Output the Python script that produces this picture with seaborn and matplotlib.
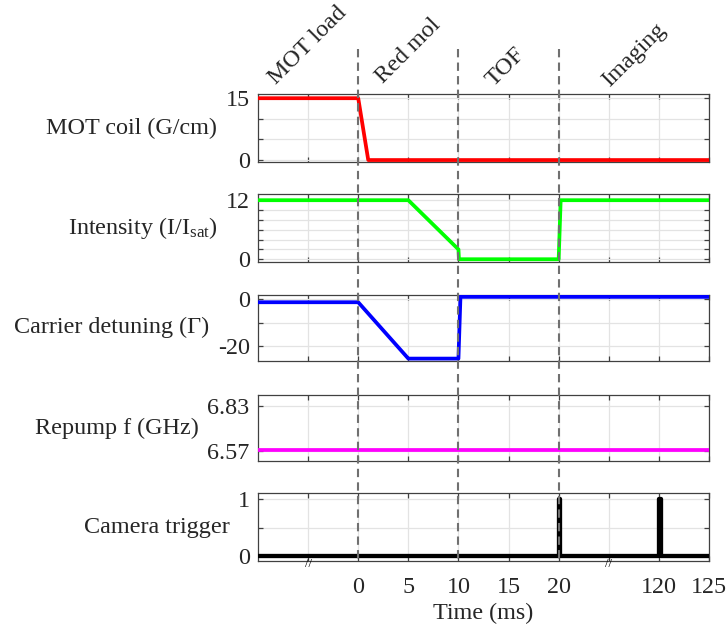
import numpy as np
import pandas as pd
import matplotlib
matplotlib.use("Agg")
import matplotlib.pyplot as plt
import seaborn as sns
from matplotlib.lines import Line2D
from matplotlib.transforms import blended_transform_factory as btf

# ---------------- data ----------------
# broken time axis: knots (ms) -> display position
T_KNOTS = [-1000, 0, 25, 115, 125]
P_KNOTS = [-2, 0, 5, 5.001, 7]

phase_names = ["MOT load", "Red mol", "TOF", "Imaging"]
phase_bounds = [0, 10, 20]

coil_t = [-1000, 0, 1, 125]
coil_v = [15, 15, 0, 0]

int_t = [-1000, 5, 10, 10.05, 20, 20.2, 125]
int_v = [12, 12, 2, 0, 0, 12, 12]

det_t = [-1000, 0, 5, 10, 10.2, 125]
det_v = [-1.3, -1.3, -25.4, -25.4, 1.0, 1.0]

rep_t = [-1000, 125]
rep_v = [6.575, 6.575]

cam_t = [-1000, 20, 20, 20.1, 20.1, 120, 120, 120.2, 120.2, 125]
cam_v = [0, 0, 1, 1, 0, 0, 1, 1, 0, 0]

xtick_t = [-500, 0, 5, 10, 15, 20, 25, 120, 125]
xtick_lab = ["", "0", "5", "10", "15", "20", "", "120", "125"]
break_t = [-500, 25]

panel_labels = ["MOT coil (G/cm)", r"Intensity (I/I$_{\mathrm{sat}}$)",
                "Carrier detuning (Γ)", "Repump f (GHz)", "Camera trigger"]
yticks = [[0, 5, 10, 15], [0, 2, 4, 6, 8, 10, 12], [-20, -10, 0], [6.57, 6.83], [0, 0.5, 1]]
yticklabels = [["0", "", "", "15"], ["0", "", "", "", "", "", "12"], ["-20", "", "0"],
               ["6.57", "6.83"], ["0", "", "1"]]
ylims = [(-0.4, 15.9), (-0.5, 13.2), (-26.3, 1.8), (6.51, 6.894), (-0.083, 1.106)]

series = [(coil_t, coil_v, "#ff0000", 2.7), (int_t, int_v, "#00ff00", 2.7),
          (det_t, det_v, "#0000ff", 2.7), (rep_t, rep_v, "#ff00ff", 2.7),
          (cam_t, cam_v, "#000000", 3.1)]

# ---------------- style ----------------
sns.set_style("ticks")
plt.rcParams["font.family"] = ["Liberation Serif", "DejaVu Serif"]
plt.rcParams["mathtext.fontset"] = "custom"
plt.rcParams["mathtext.rm"] = "Liberation Serif"
plt.rcParams["mathtext.it"] = "Liberation Serif:italic"
FS = 17.4

W, H = 726, 632
fig = plt.figure(figsize=(W / 100, H / 100), dpi=100)
fig.patch.set_facecolor("white")

panel_px = [(94.5, 161.7), (194.3, 261.7), (295, 360.7), (395, 461), (493.3, 560.7)]
left_px, right_px = 258, 709

fwd = lambda t: np.interp(t, T_KNOTS, P_KNOTS)
inv = lambda p: np.interp(p, P_KNOTS, T_KNOTS)

axes = []
for i, ((top, bot), (tt, vv, col, lw)) in enumerate(zip(panel_px, series)):
    ax = fig.add_axes([left_px / W, 1 - bot / H, (right_px - left_px) / W, (bot - top) / H])
    df = pd.DataFrame({"t": tt, "v": vv})
    sns.lineplot(data=df, x="t", y="v", ax=ax, color=col, lw=lw,
                 estimator=None, sort=False, legend=False, zorder=3)
    ax.set_xscale("function", functions=(fwd, inv))
    ax.set_xlim(T_KNOTS[0], T_KNOTS[-1])
    ax.set_ylim(*ylims[i])
    ax.set_xticks(xtick_t)
    ax.set_yticks(yticks[i])
    ax.set_yticklabels(yticklabels[i])
    ax.grid(True, color="#e3e3e3", lw=0.9)
    ax.set_axisbelow(True)
    ax.tick_params(direction="in", top=True, right=True, length=3.5, width=0.9,
                   color="#404040", labelsize=FS)
    ax.tick_params(axis="y", pad=6)
    ax.tick_params(axis="x", pad=12)
    for s in ax.spines.values():
        s.set_color("#404040")
        s.set_linewidth(0.9)
    if i < 4:
        ax.set_xticklabels([""] * len(xtick_t))
        ax.set_xlabel("")
    else:
        ax.set_xticklabels(xtick_lab)
        ax.set_xlabel("Time (ms)", fontsize=FS, labelpad=3)
    ax.set_ylabel(panel_labels[i], rotation=0, ha="right", va="center",
                  fontsize=FS, labelpad=6)
    axes.append(ax)

# break marks on bottom axis
axb = axes[-1]
for bt in break_t:
    axb.text(bt, -0.05, "//", transform=btf(axb.transData, axb.transAxes),
             ha="center", va="center", fontsize=9, color="black", clip_on=False)

# phase boundaries
for b in phase_bounds:
    fig.add_artist(Line2D([b, b], [1 - 49 / H, 1 - 560 / H],
                          transform=btf(axes[0].transData, fig.transFigure),
                          color="#707070", lw=1.5, ls=(0, (4, 2.5)), zorder=5))

# phase labels
phase_x = [1 / 9, 3 / 9, 4.95 / 9, 7.5 / 9]
phase_y = [45, 51, 67, 55]
for name, px, py in zip(phase_names, phase_x, phase_y):
    fig.text(px, 1 - py / H, name, transform=btf(axes[0].transAxes, fig.transFigure),
             rotation=45, ha="center", va="center", fontsize=FS)

fig.savefig("out.png", dpi=100, facecolor="white")
